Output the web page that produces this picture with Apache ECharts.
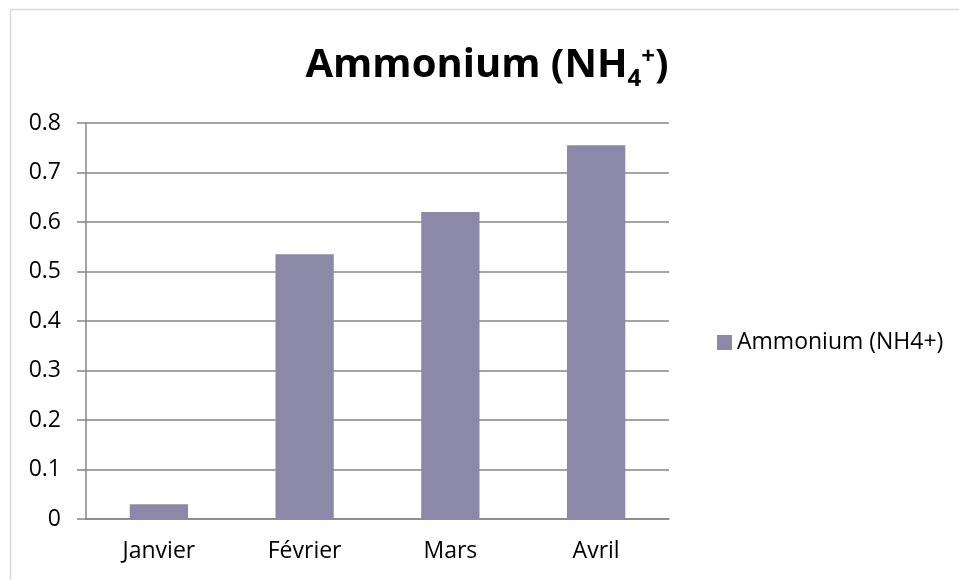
<!DOCTYPE html>
<html>
<head>
<meta charset="utf-8" />
<title>Ammonium (NH4+)</title>
<script src="https://cdn.jsdelivr.net/npm/echarts@6/dist/echarts.min.js"></script>
<style>
	html,body{ margin:0; padding:0; background:#fff;}
	#chart{ width:959px; height:580px;}
</style>
</head>
<body>
<div id="chart"></div>
<script>
var mois = ['Janvier', 'Février', 'Mars', 'Avril'];
var ammonium = [0.03, 0.535, 0.62, 0.755];
var serieName = 'Ammonium (NH4+)';

var myChart = echarts.init(document.getElementById('chart'));
var font = '"Open Sans", sans-serif';

var option = {
	animation: false,
	textStyle: { fontFamily: font },
	title: {
		text: '{m|Ammonium (NH}{sub|4}{sup|+}{m|)}',
		left: 482,
		textAlign: 'center',
		top: 36,
		textStyle: {
			rich: {
				m: { fontSize: 40, fontWeight: 'bold', color: '#000', fontFamily: font, lineHeight: 50 },
				sub: { fontSize: 24, fontWeight: 'bold', color: '#000', fontFamily: font, lineHeight: 50, padding: [26, 0, 0, 0] },
				sup: { fontSize: 24, fontWeight: 'bold', color: '#000', fontFamily: font, lineHeight: 50, padding: [0, 0, 18, 0] }
			}
		}
	},
	legend: {
		orient: 'vertical',
		left: 712,
		top: 326,
		itemWidth: 15,
		itemHeight: 15,
		itemGap: 6,
		icon: 'rect',
		textStyle: { fontSize: 23, color: '#000', fontFamily: font },
		data: [serieName]
	},
	grid: { left: 86, right: 290, top: 123, bottom: 61 },
	xAxis: {
		type: 'category',
		data: mois,
		axisLine: { lineStyle: { color: '#868686', width: 1.5 } },
		axisTick: { length: 9, lineStyle: { color: '#868686', width: 1.5 } },
		axisLabel: { fontSize: 23, color: '#000', margin: 21 }
	},
	yAxis: {
		type: 'value',
		min: 0,
		max: 0.8,
		interval: 0.1,
		axisLine: { show: true, lineStyle: { color: '#868686', width: 1.5 } },
		axisTick: { show: true, length: 9, lineStyle: { color: '#868686', width: 1.5 } },
		splitLine: { lineStyle: { color: '#868686', width: 1.5 } },
		axisLabel: { fontSize: 23, color: '#000', margin: 25 }
	},
	series: [
		{
			name: serieName,
			type: 'bar',
			data: ammonium,
			barWidth: '40%',
			itemStyle: { color: '#8C89A8' }
		}
	],
	graphic: [
		{
			type: 'rect',
			shape: { x: 10.5, y: 9.5, width: 960, height: 590 },
			style: { fill: 'none', stroke: '#d9d9d9', lineWidth: 1.5 },
			silent: true
		}
	]
};
myChart.setOption(option);
</script>
</body>
</html>
